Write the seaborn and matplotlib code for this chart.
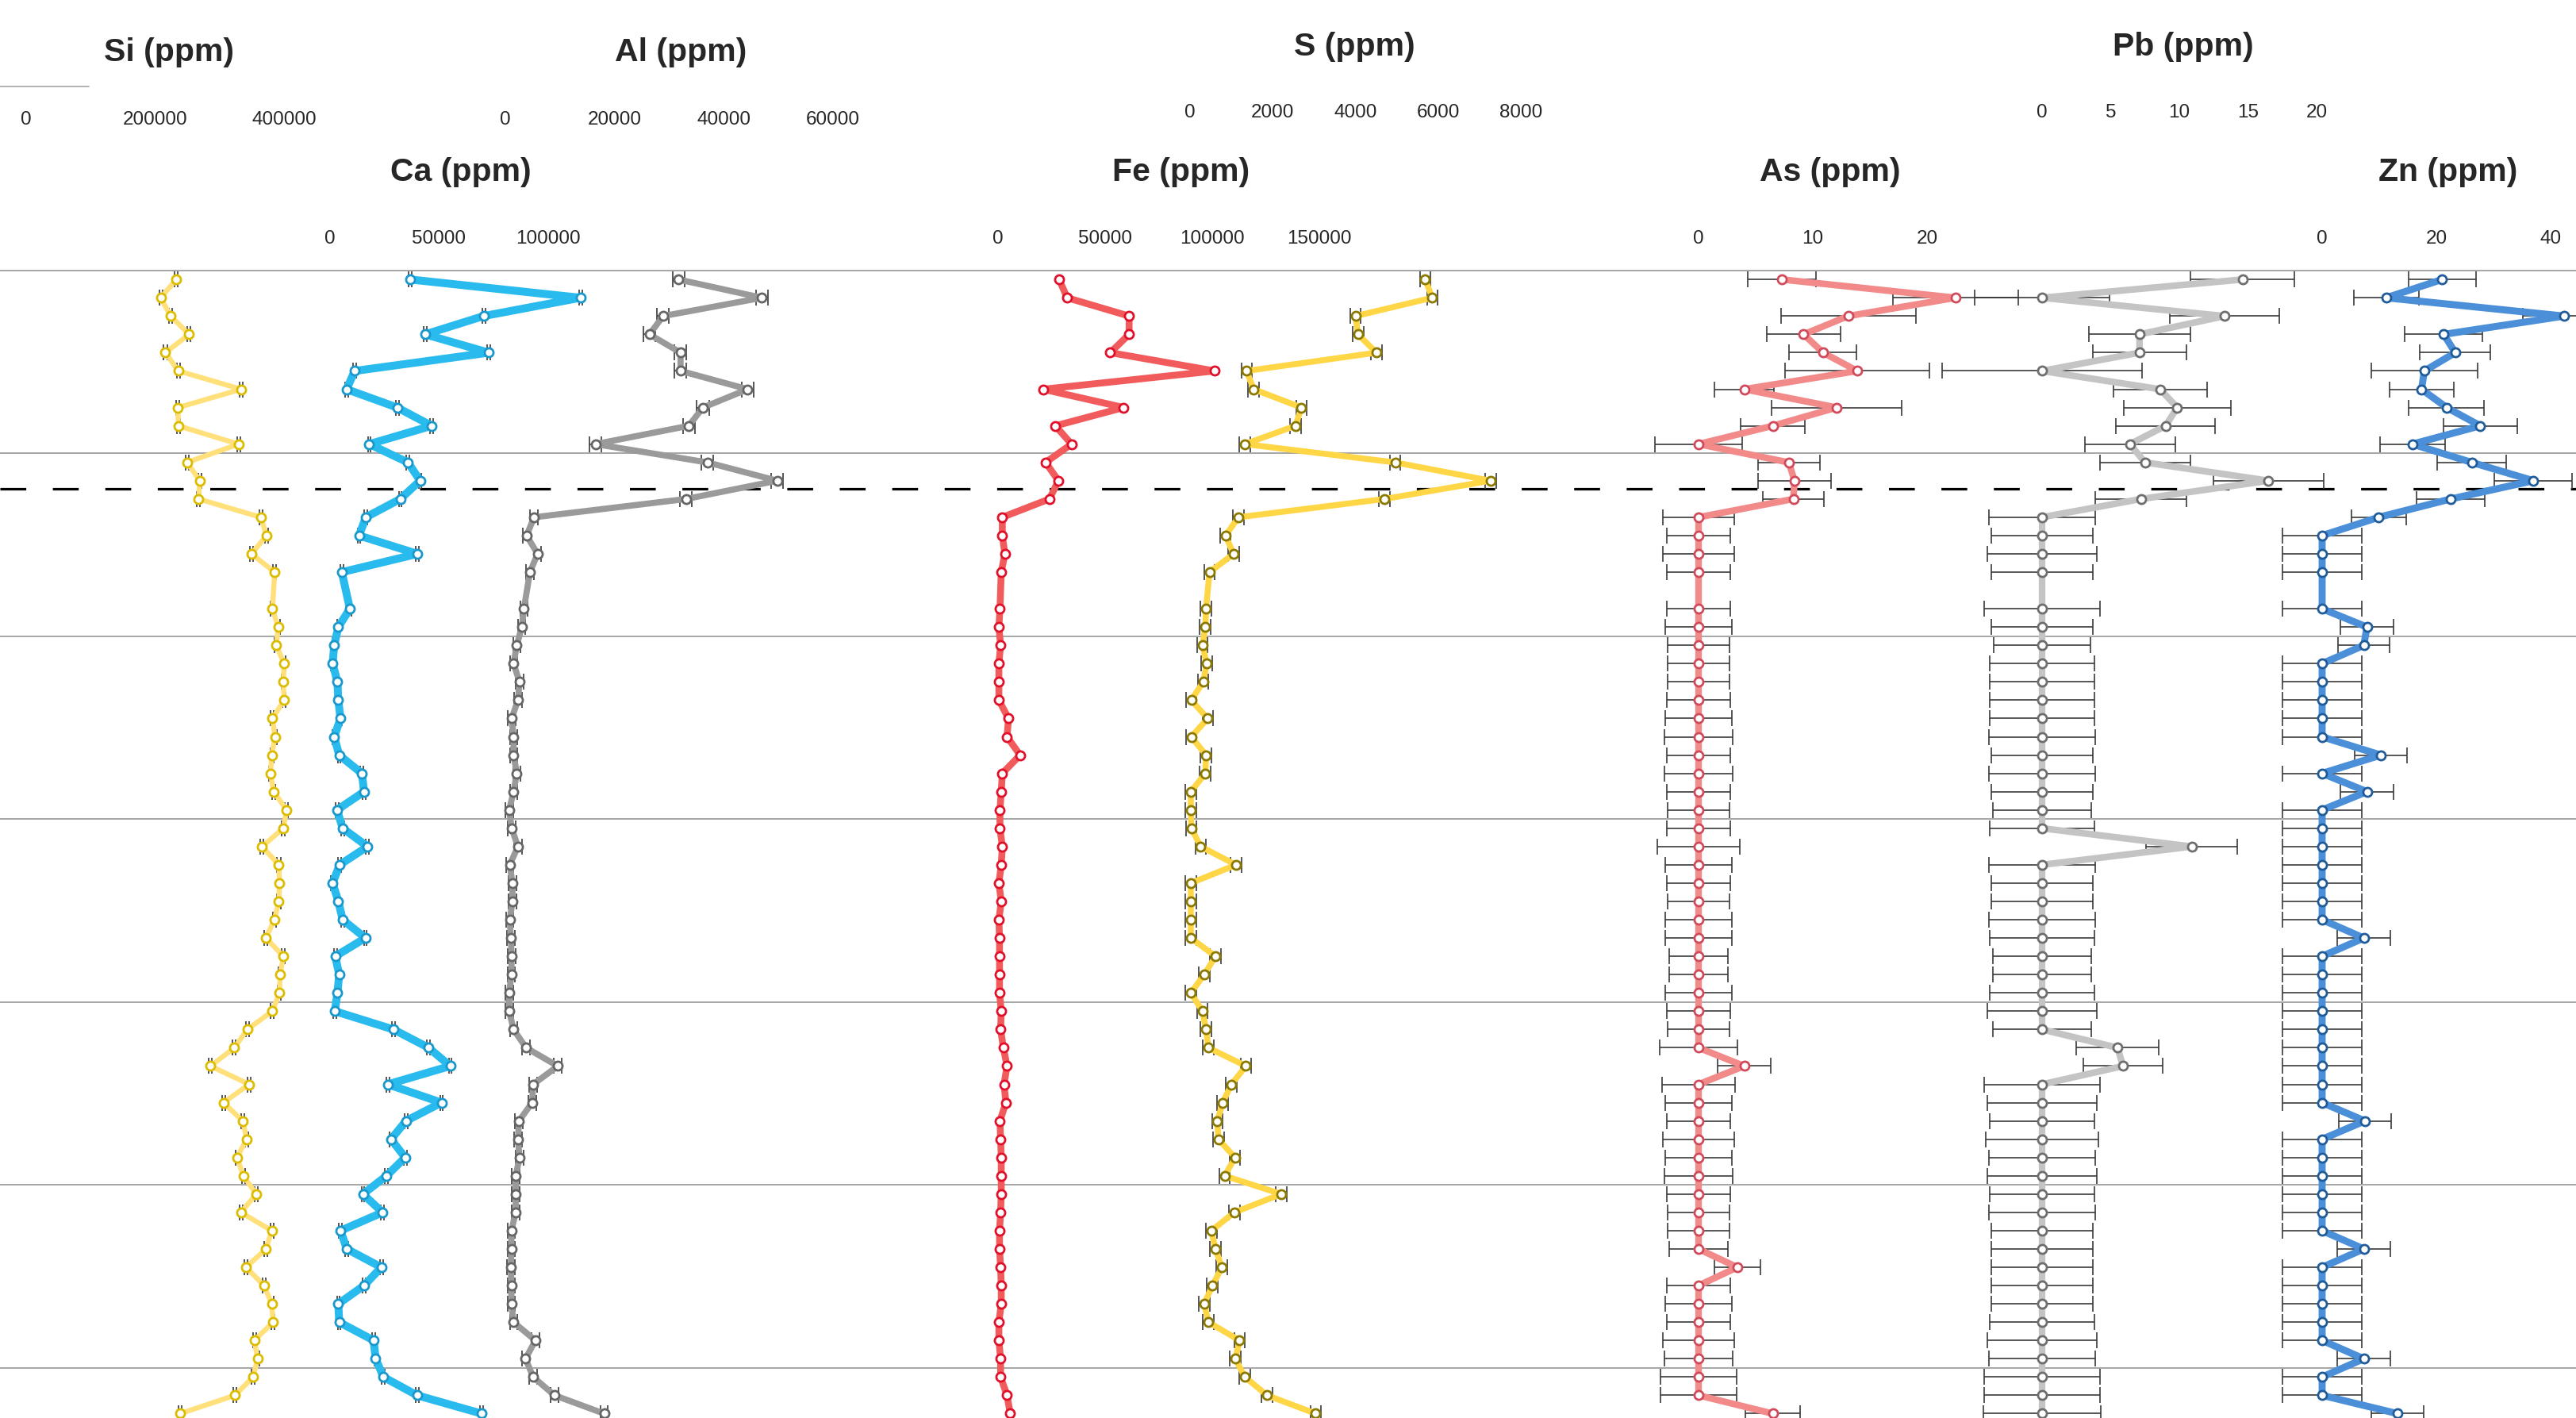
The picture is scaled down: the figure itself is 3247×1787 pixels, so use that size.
import matplotlib
matplotlib.use("Agg")
import matplotlib.pyplot as plt
from matplotlib import font_manager
from matplotlib.lines import Line2D
import seaborn as sns

# sample number down the core (sample 18 missing)
sample = [0, 1, 2, 3, 4, 5, 6, 7, 8, 9, 10, 11, 12, 13, 14, 15, 16,
          18, 19, 20, 21, 22, 23, 24, 25, 26, 27, 28, 29, 30,
          31, 32, 33, 34, 35, 36, 37, 38, 39, 40, 41, 42, 43, 44, 45, 46,
          47, 48, 49, 50, 51, 52, 53, 54, 55, 56, 57, 58, 59, 60, 61, 62]

si = [232700, 208700, 224100, 252800, 216000, 236100, 333500, 235400, 236000, 329500,
      249500, 269400, 267400, 364200, 372800, 349500, 385500,
      382000, 391000, 388000, 400000, 399000, 400000, 382000, 386000, 381000, 379000,
      384000, 404000, 399000,
      366000, 392000, 393000, 392000, 385000, 372000, 399000, 394000, 393000, 382000,
      343000, 323000, 286000, 346000, 306000, 336000, 342000, 327000, 337000, 357000,
      333000, 381000, 372000, 341000, 369000, 381000, 383000, 354000, 359000, 352000,
      324000, 239000]

ca = [36700, 114800, 70400, 43600, 72800, 11300, 7600, 30800, 46600, 18000,
      35700, 41300, 32200, 16400, 13300, 40100, 5400,
      9100, 3800, 1900, 1200, 3400, 3800, 4800, 1900, 4200, 14600, 15600, 3200, 5800,
      17200, 4400, 1200, 3800, 5800, 16200, 2400, 4200, 3400, 2200,
      29100, 45200, 55100, 26500, 51100, 34800, 28000, 34400, 25900, 15100,
      24100, 4800, 7700, 23500, 15600, 3800, 4200, 20000, 20900, 24500, 39900, 69500]

al = [31700, 47000, 28900, 26400, 32100, 32100, 44400, 36200, 33600, 16500,
      37000, 49800, 33100, 5250, 3900, 5900, 4500,
      3400, 3000, 2100, 1500, 2600, 2300, 1150, 1500, 1500, 2100, 1500, 700, 1150,
      2300, 800, 1300, 1300, 800, 1000, 1150, 1100, 700, 700,
      1500, 3800, 9600, 5100, 4900, 2500, 2300, 2600, 1900, 1900,
      1900, 1100, 1100, 1000, 1100, 1100, 1500, 5500, 3700, 5100, 9000, 18100]

fe = [28500, 32300, 61200, 61200, 52400, 101200, 21000, 58700, 26800, 34300,
      22200, 28200, 24000, 2000, 2000, 3200, 1500,
      900, 400, 1200, 400, 400, 400, 4900, 4200, 10300, 2000, 1500, 900, 900,
      2000, 1500, 400, 1500, 400, 700, 700, 700, 700, 1500,
      1200, 2500, 4200, 2800, 3700, 900, 1200, 1500, 1500, 1500,
      1200, 700, 700, 1200, 1500, 1500, 400, 400, 1200, 1200, 4200, 5700]

s = [5685, 5855, 4000, 4060, 4505, 1368, 1539, 2693, 2548, 1326,
     4957, 7266, 4701, 1171, 856, 1053, 471,
     387, 369, 301, 404, 318, 30, 429, 30, 387, 369, 20, 20, 30,
     258, 1112, 20, 20, 20, 20, 616, 343, 20, 301,
     387, 446, 1351, 1001, 789, 660, 685, 1087, 838, 2207,
     1070, 515, 616, 771, 540, 343, 446, 1198, 1095, 1326, 1864, 3036]

as_ = [7.3, 22.5, 13.1, 9.2, 10.9, 13.9, 4.0, 12.1, 6.5, 0,
       7.9, 8.4, 8.3, 0, 0, 0, 0,
       0, 0, 0, 0, 0, 0, 0, 0, 0, 0, 0, 0, 0,
       0, 0, 0, 0, 0, 0, 0, 0, 0, 0,
       0, 0, 4.0, 0, 0, 0, 0, 0, 0, 0,
       0, 0, 0, 3.4, 0, 0, 0, 0, 0, 0, 0, 6.5]
as_err = [3.0, 5.5, 5.9, 3.2, 2.95, 6.3, 2.6, 5.7, 2.8, 3.8,
          2.7, 3.2, 2.7, 3.1, 2.8, 3.1, 2.8,
          2.8, 2.9, 2.7, 2.7, 2.7, 2.8, 2.9, 3.0, 2.8, 3.0, 2.8, 2.7, 2.8,
          3.6, 2.9, 2.8, 2.7, 2.9, 2.9, 2.6, 2.6, 2.9, 2.8,
          2.7, 3.4, 2.3, 3.2, 2.9, 2.8, 3.1, 2.9, 3.0, 2.8,
          2.7, 2.7, 2.6, 2.0, 2.8, 2.9, 2.8, 3.1, 3.0, 3.3, 3.3, 2.4]

pb = [14.6, 0, 13.3, 7.1, 7.1, 0, 8.6, 9.85, 9.0, 6.4,
      7.5, 16.5, 7.2, 0, 0, 0, 0,
      0, 0, 0, 0, 0, 0, 0, 0, 0, 0, 0, 0, 0,
      10.9, 0, 0, 0, 0, 0, 0, 0, 0, 0,
      0, 5.5, 5.9, 0, 0, 0, 0, 0, 0, 0,
      0, 0, 0, 0, 0, 0, 0, 0, 0, 0, 0, 0]
pb_err = [3.8, 4.9, 4.0, 3.7, 3.4, 7.3, 3.4, 3.9, 3.6, 3.3,
          3.3, 4.0, 3.3, 3.9, 3.7, 4.0, 3.7,
          4.2, 3.7, 3.5, 3.8, 3.8, 3.8, 3.8, 3.9, 3.7, 3.9, 3.7, 3.6, 3.8,
          3.3, 3.9, 3.7, 3.7, 3.9, 3.8, 3.6, 3.6, 3.8, 4.0,
          3.6, 3.0, 2.9, 4.2, 4.0, 3.8, 4.1, 3.9, 4.0, 3.8,
          3.9, 3.7, 3.7, 3.7, 3.7, 3.7, 3.8, 4.0, 3.9, 4.2, 4.2, 4.3]

zn = [21.0, 11.2, 42.4, 21.3, 23.3, 17.9, 17.4, 21.8, 27.7, 15.8,
      26.2, 37.0, 22.5, 9.9, 0, 0, 0,
      0, 7.85, 7.3, 0, 0, 0, 0, 0, 10.3, 0, 7.85, 0, 0,
      0, 0, 0, 0, 0, 7.3, 0, 0, 0, 0,
      0, 0, 0, 0, 0, 7.5, 0, 0, 0, 0,
      0, 0, 7.3, 0, 0, 0, 0, 0, 7.3, 0, 0, 13.2]
zn_err = [5.9, 5.7, 7.2, 6.8, 6.2, 9.3, 5.6, 6.6, 6.4, 5.7,
          6.0, 6.8, 6.0, 4.8, 6.9, 6.9, 6.9,
          6.9, 4.6, 4.5, 6.9, 6.9, 6.9, 6.9, 6.9, 4.6, 6.9, 4.7, 6.9, 6.9,
          6.9, 6.9, 6.9, 6.9, 6.9, 4.6, 6.9, 6.9, 6.9, 6.9,
          6.9, 6.9, 6.9, 6.9, 6.9, 4.6, 6.9, 6.9, 6.9, 6.9,
          6.9, 6.9, 4.6, 6.9, 6.9, 6.9, 6.9, 6.9, 4.6, 6.9, 6.9, 4.6]

# small analytical uncertainties for the major elements
si_err = [2500] * len(sample)
ca_err = [700] * len(sample)
al_err = [1100] * 13 + [700] * (len(sample) - 13)
s_err = [130] * len(sample)

section_lines = [-0.5, 9.5, 19.5, 29.5, 39.5, 49.5, 59.5]
boundary = 11.44

W, H = 3248, 1787
TOP = 339.3   # pixel row of the top of the plot area

sns.set_style("white")
names = {f.name for f in font_manager.fontManager.ttflist}
if "Liberation Sans Narrow" in names:
    FONT = ["Liberation Sans Narrow", "DejaVu Sans"]
    tick_fs, title_fs = 21, 35
else:
    FONT = ["Liberation Sans", "DejaVu Sans"]
    tick_fs, title_fs = 17.5, 29.5
plt.rcParams["font.family"] = FONT

fig = plt.figure(figsize=(W / 100, H / 100), dpi=100)
rect = [0, 0, 1, (H - TOP) / H]
ax0 = fig.add_axes(rect)
ax0.set_ylim(62.24, -0.56)
ax0.set_xlim(0, 1)
ax0.axis("off")
for y in section_lines:
    ax0.axhline(y, color="#a6a6a6", lw=1.4, zorder=0)
ax0.axhline(boundary, color="black", lw=2.3, dashes=(10.2, 10.5), zorder=6)

# element: values, errors, line colour, marker edge, line width,
# (zero pixel, pixels per tick step, tick step), ticks, tick pad, title pos
elements = [
    ("Si (ppm)", si, si_err, "#ffe07a", "#dcbc00", 4.6, (33, 162.5, 200000),
     [0, 200000, 400000], 128, (213, 66)),
    ("Ca (ppm)", ca, ca_err, "#29bbee", "#1898cc", 7.2, (416, 137.5, 50000),
     [0, 50000, 100000], 20, (581, 217)),
    ("Al (ppm)", al, al_err, "#9a9a9a", "#666666", 5.6, (637, 137.6, 20000),
     [0, 20000, 40000, 60000], 128, (858, 66)),
    ("Fe (ppm)", fe, None, "#f25b5b", "#e0102a", 6.2, (1258, 135, 50000),
     [0, 50000, 100000, 150000], 20, (1489, 217)),
    ("S (ppm)", s, s_err, "#ffd645", "#8c7a00", 5.4, (1500, 104.3, 2000),
     [0, 2000, 4000, 6000, 8000], 134, (1707, 59)),
    ("As (ppm)", as_, as_err, "#f28a8a", "#d04a5a", 6.0, (2141, 144, 10),
     [0, 10, 20], 20, (2307, 217)),
    ("Pb (ppm)", pb, pb_err, "#c4c4c4", "#6e6e6e", 6.0, (2574, 86.5, 5),
     [0, 5, 10, 15, 20], 134, (2752, 59)),
    ("Zn (ppm)", zn, zn_err, "#4a8fd8", "#1f5c99", 6.4, (2927, 144, 20),
     [0, 20, 40], 20, (3086, 217)),
]

for title, vals, err, lc, mc, lw, (p0, step_px, step), ticks, pad, (tx, ty) in elements:
    ax = fig.add_axes(rect, sharey=ax0)
    ax.patch.set_alpha(0)
    ax.set_xlim(-p0 / step_px * step, (W - p0) / step_px * step)
    if err is not None:
        ax.errorbar(vals, sample, xerr=err, fmt="none", ecolor="#3a3a3a",
                    elinewidth=1.2, capsize=7, capthick=1.2, zorder=2)
    sns.lineplot(x=vals, y=sample, orient="y", sort=False, estimator=None,
                 ax=ax, color=lc, lw=lw, marker="o", ms=8, mfc="white",
                 mec=mc, mew=2.0, zorder=3)
    ax.set_ylim(62.24, -0.56)
    ax.set_xlabel("")
    ax.set_ylabel("")
    ax.xaxis.set_ticks_position("top")
    ax.set_xticks(ticks)
    ax.set_xticklabels([str(t) for t in ticks])
    ax.tick_params(axis="x", length=0, pad=pad, labelsize=tick_fs)
    ax.tick_params(axis="y", left=False, labelleft=False)
    for sp in ax.spines.values():
        sp.set_visible(False)
    fig.text(tx / W, 1 - ty / H, title, ha="center", va="center",
             fontsize=title_fs, fontweight="bold")

# stub of the Si axis line in the top-left corner
fig.add_artist(Line2D([0, 112 / W], [1 - 109 / H, 1 - 109 / H],
                      color="#a6a6a6", lw=1.2))

fig.savefig("out.png", dpi=100, facecolor="white")
